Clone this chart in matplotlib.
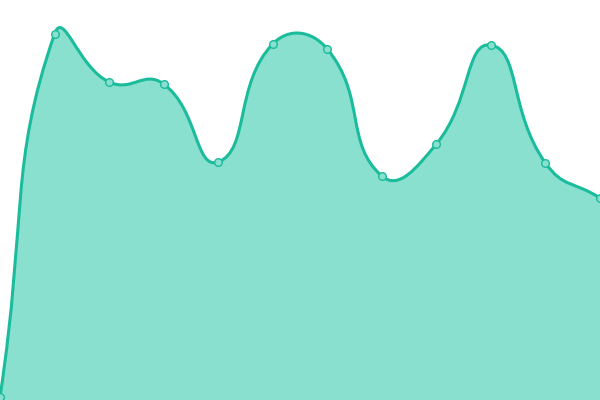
import matplotlib
matplotlib.use("Agg")
import matplotlib.pyplot as plt
import numpy as np
from matplotlib.path import Path
from matplotlib.patches import PathPatch

categories = list(range(12))
values = [3, 366, 318, 316, 238, 356, 351, 224, 256, 355, 237, 202]

LINE = "#1abc9c"
FILL = "#8ae0cf"

fig = plt.figure(figsize=(6, 4), dpi=100)
ax = fig.add_axes([0, 0, 1, 1])
ax.set_xlim(0, 11)
ax.set_ylim(0, 400)
ax.axis("off")

pts = ax.transData.transform(np.column_stack([categories, values]))
smooth = 0.5
n = len(pts)
cps_out = []
cps_in = []
for i in range(n):
    p = pts[i]
    prev = pts[i - 1] if i > 0 else p
    nxt = pts[i + 1] if i < n - 1 else p
    v = nxt - prev
    l0 = np.hypot(*(p - prev))
    l1 = np.hypot(*(nxt - p))
    r = l1 / (l0 + l1) if (l0 + l1) > 0 else 0.5
    cps_in.append(p - v * smooth * (1 - r))
    cps_out.append(p + v * smooth * r)

verts = [pts[0]]
codes = [Path.MOVETO]
for i in range(n - 1):
    verts += [cps_out[i], cps_in[i + 1], pts[i + 1]]
    codes += [Path.CURVE4] * 3
inv = ax.transData.inverted()
verts_d = inv.transform(np.array(verts))

line_path = Path(verts_d, codes)
fill_verts = list(verts_d) + [(categories[-1], 0), (categories[0], 0), verts_d[0]]
fill_codes = codes + [Path.LINETO, Path.LINETO, Path.CLOSEPOLY]
ax.add_patch(PathPatch(Path(fill_verts, fill_codes), facecolor=FILL, edgecolor="none", zorder=1))
ax.add_patch(PathPatch(line_path, facecolor="none", edgecolor=LINE, lw=2.2, zorder=2, clip_on=False))
ax.plot(categories, values, "o", ms=5.5, mfc=FILL, mec=LINE, mew=1, zorder=3, clip_on=False)

fig.savefig("out.png", dpi=100)
